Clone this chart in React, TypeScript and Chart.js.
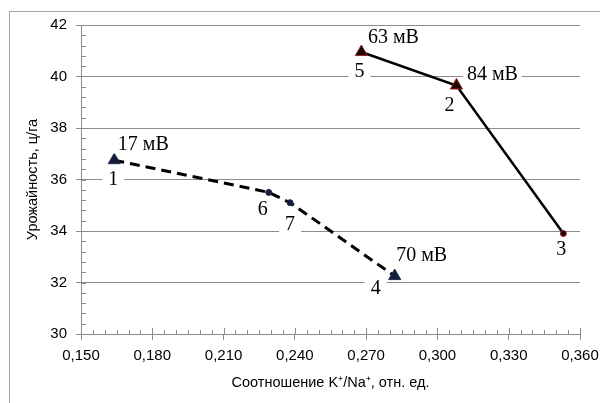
import React, { useEffect, useRef } from 'react';
import { Chart, registerables } from 'chart.js';

Chart.register(...registerables);

// ---- data ----
const dashedX = [0.164, 0.229, 0.238, 0.282];
const dashedY = [36.75, 35.5, 35.1, 32.25];
const dashedIds = ['1', '6', '7', '4'];
const dashedMv = ['17 мВ', '', '', '70 мВ'];
const dashedStyles = ['triangle', 'circle', 'circle', 'triangle'];

const solidX = [0.268, 0.308, 0.353];
const solidY = [40.95, 39.65, 33.9];
const solidIds = ['5', '2', '3'];
const solidMv = ['63 мВ', '84 мВ', ''];
const solidStyles = ['triangle', 'triangle', 'circle'];

const xBounds = [0.15, 0.36];
const xStep = 0.03;
const xMinorStep = 0.005;
const yBounds = [30, 42];
const yStep = 2;
const yMinorStep = 0.4;

const xTitle = 'Соотношение K⁺/Na⁺, отн. ед.';
const yTitle = 'Урожайность, ц/га';

// ---- label placement (pixel offsets relative to the point) ----
const idOffsets = [
  [[-1, 20], [-6, 17], [0, 22], [-19, 13]],
  [[-2, 20], [-7, 20], [-2, 16]],
];
const mvOffsets = [
  [[29, -15], null, null, [27, -20]],
  [[32, -14], [36, -11], null],
];
const idsBySeries = [dashedIds, solidIds];
const mvBySeries = [dashedMv, solidMv];

const GRID = '#8c8c8c';

function drawBoxedText(ctx: CanvasRenderingContext2D, text: string, cx: number, cy: number, size: number, padX: number) {
  ctx.font = `${size}px "Liberation Serif", "Times New Roman", serif`;
  const w = ctx.measureText(text).width;
  const h = size * 0.85;
  ctx.fillStyle = '#ffffff';
  ctx.fillRect(cx - w / 2 - padX, cy - h / 2, w + padX * 2, h);
  ctx.fillStyle = '#000000';
  ctx.textAlign = 'center';
  ctx.textBaseline = 'middle';
  ctx.fillText(text, cx, cy);
}

const decorPlugin = {
  id: 'decor',
  beforeDraw(chart: any) {
    const ctx = chart.ctx;
    ctx.save();
    ctx.fillStyle = '#ffffff';
    ctx.fillRect(0, 0, chart.width, chart.height);
    ctx.strokeStyle = '#a6a6a6';
    ctx.lineWidth = 1;
    ctx.strokeRect(9.5, 11.5, chart.width + 10, chart.height + 10);
    ctx.restore();
  },
  beforeDatasetsDraw(chart: any) {
    const ctx = chart.ctx;
    const xs = chart.scales.x;
    const ys = chart.scales.y;
    const area = chart.chartArea;
    ctx.save();
    ctx.strokeStyle = GRID;
    ctx.lineWidth = 1;
    ctx.beginPath();
    const nX = Math.round((xBounds[1] - xBounds[0]) / xMinorStep);
    for (let i = 0; i <= nX; i++) {
      const v = xBounds[0] + i * xMinorStep;
      const px = Math.round(xs.getPixelForValue(v)) + 0.5;
      const major = i % Math.round(xStep / xMinorStep) === 0;
      const len = major ? 6 : 4;
      ctx.moveTo(px, area.bottom);
      ctx.lineTo(px, area.bottom - len);
    }
    const nY = Math.round((yBounds[1] - yBounds[0]) / yMinorStep);
    for (let i = 0; i <= nY; i++) {
      const v = yBounds[0] + i * yMinorStep;
      const py = Math.round(ys.getPixelForValue(v)) + 0.5;
      ctx.moveTo(area.left, py);
      ctx.lineTo(area.left + 5, py);
    }
    ctx.stroke();
    ctx.restore();
  },
  afterDatasetsDraw(chart: any) {
    const ctx = chart.ctx;
    ctx.save();
    chart.data.datasets.forEach((_: any, di: number) => {
      const meta = chart.getDatasetMeta(di);
      meta.data.forEach((pt: any, i: number) => {
        const id = idsBySeries[di][i];
        const off = idOffsets[di][i];
        if (id && off) drawBoxedText(ctx, id, pt.x + off[0], pt.y + off[1], 20, 6);
        const mv = mvBySeries[di][i];
        const mo = mvOffsets[di][i];
        if (mv && mo) drawBoxedText(ctx, mv, pt.x + mo[0], pt.y + mo[1], 20, 4);
      });
    });
    ctx.restore();
  },
};

export default function App() {
  const ref = useRef<HTMLCanvasElement | null>(null);

  useEffect(() => {
    if (!ref.current) return;
    const tickFont = { family: '"Liberation Sans", Arial, sans-serif', size: 15 };
    const titleFont = { family: '"Liberation Sans", Arial, sans-serif', size: 14.5 };
    const chart = new Chart(ref.current, {
      type: 'scatter',
      data: {
        datasets: [
          {
            data: dashedX.map((x, i) => ({ x, y: dashedY[i] })),
            showLine: true,
            borderColor: '#000000',
            borderWidth: 3,
            borderDash: [10, 6],
            pointStyle: dashedStyles as any,
            pointRadius: dashedStyles.map((s) => (s === 'triangle' ? 7 : 3)),
            pointBackgroundColor: '#141b33',
            pointBorderColor: '#1f2d55',
            pointBorderWidth: 1,
          },
          {
            data: solidX.map((x, i) => ({ x, y: solidY[i] })),
            showLine: true,
            borderColor: '#000000',
            borderWidth: 2.5,
            pointStyle: solidStyles as any,
            pointRadius: solidStyles.map((s) => (s === 'triangle' ? 7 : 3)),
            pointBackgroundColor: '#1a0505',
            pointBorderColor: '#9b2020',
            pointBorderWidth: 1,
          },
        ],
      },
      options: {
        responsive: false,
        animation: false,
        layout: { padding: { left: 0, top: 25, right: 20, bottom: 0 } },
        plugins: {
          legend: { display: false },
          tooltip: { enabled: false },
        },
        scales: {
          x: {
            type: 'linear',
            min: xBounds[0],
            max: xBounds[1],
            afterFit: (s: any) => { s.height = 69; s.paddingRight = 0; s.paddingLeft = 0; },
            border: { display: true, color: GRID, width: 1 },
            grid: { display: true, drawOnChartArea: false, drawTicks: true, tickLength: 6, color: GRID },
            ticks: {
              stepSize: xStep,
              color: '#000000',
              font: tickFont,
              padding: 7,
              maxRotation: 0,
              callback: (v: any) => Number(v).toFixed(3).replace('.', ','),
            },
            title: { display: true, text: xTitle, color: '#000000', font: titleFont, padding: { top: 0, bottom: 11 } },
          },
          y: {
            type: 'linear',
            min: yBounds[0],
            max: yBounds[1],
            afterFit: (s: any) => { s.width = 81; s.paddingTop = 0; s.paddingBottom = 0; },
            border: { display: true, color: GRID, width: 1 },
            grid: { display: true, drawTicks: true, tickLength: 5, color: GRID },
            ticks: {
              stepSize: yStep,
              color: '#000000',
              font: tickFont,
              padding: 9,
              callback: (v: any) => String(v),
            },
            title: { display: true, text: yTitle, color: '#000000', font: titleFont, padding: { top: 24, bottom: 0 } },
          },
        },
      },
      plugins: [decorPlugin],
    });
    return () => chart.destroy();
  }, []);

  return (
    <div style={{ position: 'fixed', left: 0, top: 0, width: 600, height: 403 }}>
      <canvas ref={ref} width={600} height={403} style={{ width: 600, height: 403 }} />
    </div>
  );
}
